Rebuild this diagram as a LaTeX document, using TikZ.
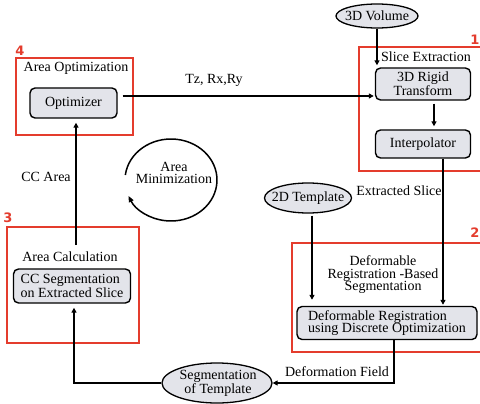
\documentclass[tikz,border=0pt]{standalone}
\usepackage{fontspec}
\setmainfont{Liberation Serif}
\newfontfamily\numfont{DejaVu Sans}
\usetikzlibrary{arrows.meta,shapes.geometric,calc}
\definecolor{boxfill}{RGB}{227,228,234}
\definecolor{redline}{RGB}{228,60,45}
\begin{document}
\begin{tikzpicture}[x=1pt,y=-1pt,
  font=\fontsize{14}{12.5}\selectfont,
  rbox/.style={draw, line width=1.4pt, rounded corners=5pt, fill=boxfill, inner sep=2pt},
  ell/.style={ellipse, draw, line width=1.3pt, fill=boxfill, inner sep=0pt},
  frame/.style={draw=redline, line width=1.6pt},
  num/.style={text=redline, inner sep=0pt, font=\numfont\bfseries\fontsize{13}{13}\selectfont},
  arr/.style={line width=1.8pt, -{Triangle[length=5pt,width=5pt]}},
  txt/.style={inner sep=0pt, align=center}]
\useasboundingbox (0,0) rectangle (480,404);
\fill[white] (0,0) rectangle (480,404);

% red frames
\draw[frame] (16,58) rectangle (133,135);
\draw[frame] (7,227) rectangle (139,343);
\draw[frame] (481,47) -- (359,47) -- (359,171) -- (481,171);
\draw[frame] (481,243) -- (292,243) -- (292,352) -- (481,352);
\node[num] (n4) at (20,51) {4};
\node[num] (n3) at (8,218) {3};
\node[num, anchor=east] (n1) at (479.5,40) {1};
\node[num, anchor=east] (n2) at (479.5,233) {2};

% boxes
\node[rbox, minimum width=87, minimum height=30] (opt) at (73.5,103) {Optimizer};
\node[rbox, minimum width=95, minimum height=32, align=center] (rigid) at (423,84) {3D Rigid\\Transform};
\node[rbox, minimum width=95, minimum height=28] (interp) at (423,144) {Interpolator};
\node[rbox, minimum width=180, minimum height=33, align=left] (defreg) at (387,323) {Deformable Registration\\using Discrete Optimization};
\node[rbox, minimum width=117, minimum height=34, align=left] (ccseg) at (72,286) {CC Segmentation\\on Extracted Slice};

% ellipses
\node[ell, minimum width=82, minimum height=24] (vol) at (377,16) {};
\node[txt] (volT) at (vol) {3D Volume};
\node[ell, minimum width=87, minimum height=30] (tmpl) at (308,198) {};
\node[txt] (tmplT) at (tmpl) {2D Template};
\node[ell, minimum width=110, minimum height=40] (segt) at (217,383) {};
\node[txt] (segtT) at (218,383) {Segmentation\\of Template};

% labels
\node[txt] (t4) at (76,68) {Area Optimization};
\node[txt] (t1) at (426,57) {Slice Extraction};
\node[txt] (tes) at (399,191) {Extracted Slice};
\node[txt] (t2) at (383,275) {Deformable\\Registration -Based\\Segmentation};
\node[txt] (tdf) at (337,372) {Deformation Field};
\node[txt] (t3) at (70,257) {Area Calculation};
\node[txt] (tcc) at (46,177) {CC Area};
\node[txt] (tam) at (174,173) {Area\\Minimization};
\node[txt] (tz) at (214,80) {Tz, Rx,Ry};

% connectors
\draw[arr, shorten <=5pt, shorten >=1pt] ([yshift=7pt]opt.east) -- ([yshift=-12pt]rigid.west);
\draw[arr, shorten >=2pt] (vol.south) -- (vol.south |- rigid.north);
\draw[arr, shorten <=3pt, shorten >=3pt] ([xshift=11pt]rigid.south) -- ([xshift=11pt]interp.north);
\draw[arr, shorten >=1pt] ([xshift=20pt]interp.south) -- ([xshift=20pt]interp.south |- defreg.north);
\draw[arr, shorten <=2pt, shorten >=6pt] ([xshift=4pt]tmpl.south) -- ([xshift=4pt]tmpl.south |- defreg.north);
\draw[arr, rounded corners=0pt] ([xshift=7pt]defreg.south) |- (segt.east);
\draw[arr, shorten >=4pt] (segt.west) -| ([xshift=2pt]ccseg.south);
\coordinate (ccstart) at (76,245);
\draw[arr, shorten >=4pt] (ccstart) -- (ccstart |- opt.south);

% area minimization loop
\coordinate (loopc) at (171,180);
\draw[line width=1.5pt, -{Triangle[length=6pt,width=5pt]}] ($(loopc)+(187:46 and 41)$) arc[start angle=187, end angle=517, x radius=46, y radius=41];
\end{tikzpicture}
\end{document}
